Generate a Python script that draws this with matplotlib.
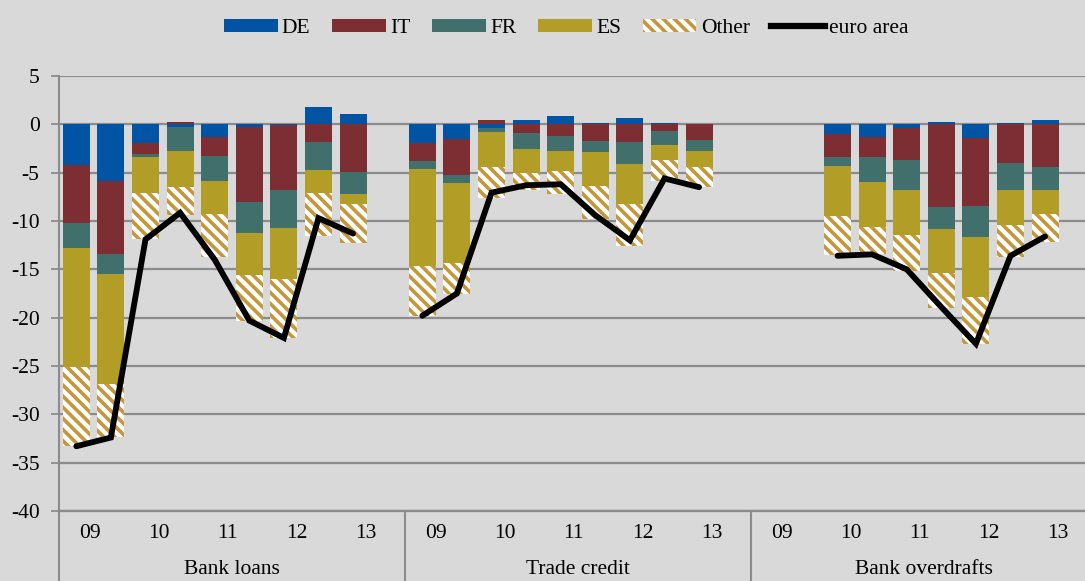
import numpy as np
import matplotlib
matplotlib.use("Agg")
import matplotlib.pyplot as plt
from matplotlib.patches import Patch
from matplotlib.lines import Line2D

# ---------------------------------------------------------------------------
# Data: 30 half-year slots (3 instruments x 10); nan = no observation
# ---------------------------------------------------------------------------
nan = np.nan
groups = ["Bank loans", "Trade credit", "Bank overdrafts"]
years = ["09", "10", "11", "12", "13"]

de = [-4.24, -5.83, -1.97, -0.30, -1.34, -0.31, -0.10, 1.76, 1.07, nan,
      -1.97, -1.55, -0.41, 0.41, 0.90, 0.17, 0.69, 0.10, 0.00, nan,
      nan, nan, -1.03, -1.28, -0.41, 0.20, -1.38, 0.10, 0.45, nan]
it = [-6.00, -7.62, -1.06, 0.24, -1.97, -7.76, -6.69, -1.86, -4.97, nan,
      -1.82, -3.69, 0.45, -0.93, -1.17, -1.76, -1.79, -0.69, -1.66, nan,
      nan, nan, -2.31, -2.06, -3.31, -8.59, -7.03, -4.00, -4.45, nan]
fr = [-2.59, -2.07, -0.35, -2.42, -2.59, -3.17, -3.93, -2.86, -2.24, nan,
      -0.83, -0.86, -0.34, -1.62, -1.62, -1.14, -2.31, -1.45, -1.10, nan,
      nan, nan, -0.97, -2.66, -3.07, -2.24, -3.25, -2.79, -2.34, nan]
es = [-12.31, -11.38, -3.69, -3.73, -3.41, -4.35, -5.25, -2.38, -1.03, nan,
      -10.03, -8.24, -3.69, -2.52, -2.04, -3.48, -4.14, -1.55, -1.62, nan,
      nan, nan, -5.14, -4.66, -4.62, -4.58, -6.24, -3.66, -2.52, nan]
other = [-8.10, -5.40, -4.79, -2.96, -4.39, -4.71, -6.10, -4.42, -4.07, nan,
         -5.15, -3.21, -3.17, -1.72, -2.41, -3.41, -4.35, -2.14, -2.07, nan,
         nan, nan, -4.10, -2.79, -3.73, -3.56, -4.82, -3.24, -2.86, nan]
euro_area = [-33.3, -32.4, -11.9, -9.15, -14.0, -20.3, -22.1, -9.7, -11.3, nan,
             -19.8, -17.5, -7.07, -6.3, -6.2, -9.4, -12.0, -5.6, -6.5, nan,
             nan, nan, -13.6, -13.45, -15.0, -18.9, -22.7, -13.6, -11.6, nan]

# ---------------------------------------------------------------------------
# Style
# ---------------------------------------------------------------------------
BG = "#D9D9D9"
GRID = "#8C8C8C"
COLORS = {"DE": "#0054A3", "IT": "#7C2E33", "FR": "#416F6B", "ES": "#B29E27"}
HATCH_C = "#C4973A"
HATCH = "\\\\\\"
FS = 15.5

plt.rcParams["font.family"] = ["Liberation Serif", "DejaVu Serif"]
plt.rcParams["axes.unicode_minus"] = False
plt.rcParams["hatch.linewidth"] = 2.6

fig = plt.figure(figsize=(10.85, 5.81), dpi=100, facecolor=BG)
ax = fig.add_axes([59 / 1085, 70 / 581, 1038 / 1085, 435 / 581])
ax.set_facecolor(BG)

x = np.arange(len(de))
width = 0.78

series = [("DE", de), ("IT", it), ("FR", fr), ("ES", es), ("Other", other)]
pos_base = np.zeros(len(x))
neg_base = np.zeros(len(x))
for name, vals in series:
    v = np.array(vals, dtype=float)
    ok = ~np.isnan(v)
    pos = ok & (v >= 0)
    neg = ok & (v < 0)
    for mask, base in ((pos, pos_base), (neg, neg_base)):
        if not mask.any():
            continue
        if name == "Other":
            ax.bar(x[mask], v[mask], width, bottom=base[mask], color="white",
                   edgecolor=HATCH_C, hatch=HATCH, linewidth=0, zorder=3)
        else:
            ax.bar(x[mask], v[mask], width, bottom=base[mask],
                   color=COLORS[name], linewidth=0, zorder=3)
        base[mask] += v[mask]

ax.plot(x, euro_area, color="black", lw=4.2, solid_capstyle="round",
        solid_joinstyle="miter", zorder=5)

# axes
ax.set_xlim(-0.5, 29.5)
ax.set_ylim(-40, 5)
ax.set_yticks(np.arange(-40, 6, 5))
ax.yaxis.grid(True, color=GRID, lw=1.6, zorder=0)
ax.set_axisbelow(True)
ax.tick_params(axis="y", length=6, width=1.3, color=GRID, pad=8,
               labelsize=FS, direction="out")
ax.set_xticks([])
for s in ["top", "right", "bottom"]:
    ax.spines[s].set_visible(False)
ax.spines["left"].set_color(GRID)
ax.spines["left"].set_linewidth(1.5)

# multi-level category axis
trans = ax.get_xaxis_transform()
ax.plot([-0.5, 29.5], [0, 0], transform=trans, color=GRID, lw=1.6,
        clip_on=False, zorder=2)
for g, name in enumerate(groups):
    left = g * 10 - 0.5
    ax.plot([left, left], [0, -0.17], transform=trans, color=GRID, lw=1.5,
            clip_on=False)
    for k, yr in enumerate(years):
        ax.text(left + 2 * k + 0.88, -0.052, yr, transform=trans,
                ha="center", va="center", fontsize=FS)
    ax.text(left + 5, -0.145, name, transform=trans, ha="center",
            va="baseline", fontsize=FS)

# legend
handles = [Patch(facecolor=COLORS[n], edgecolor="none") for n in ["DE", "IT", "FR", "ES"]]
handles.append(Patch(facecolor="white", edgecolor=HATCH_C, hatch=HATCH, lw=0))
handles.append(Line2D([], [], color="black", lw=4.5))
fig.legend(handles, ["DE", "IT", "FR", "ES", "Other", "euro area"],
           loc="center", bbox_to_anchor=(0.522, 0.951), ncol=6, frameon=False,
           fontsize=FS, handlelength=2.5, handleheight=0.55,
           handletextpad=0.2, columnspacing=1.0)

fig.savefig("out.png", dpi=100, facecolor=BG)
